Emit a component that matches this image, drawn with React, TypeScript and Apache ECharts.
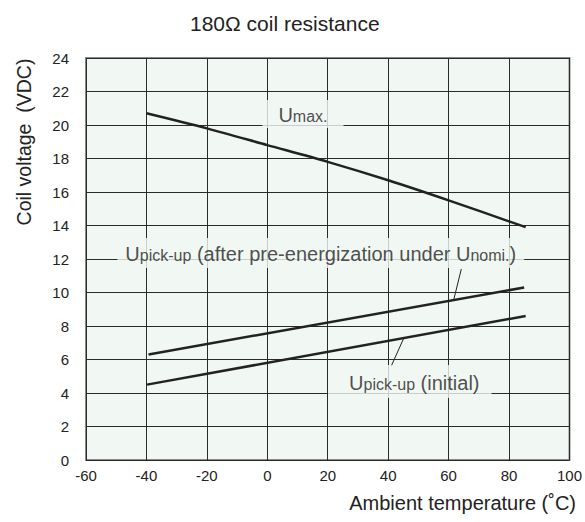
import React, { useEffect, useRef } from "react";
import * as echarts from "echarts";

const tempUmax = [-40, -20, 0, 20, 40, 60, 85.5];
const uMax = [20.7, 19.8, 18.8, 17.8, 16.7, 15.5, 13.9];

const tempAfter = [-39.3, 85];
const pickupAfter = [6.3, 10.3];

const tempInitial = [-39.8, 85.5];
const pickupInitial = [4.5, 8.6];

const xTicks = { min: -60, max: 100, interval: 20 };
const yTicks = { min: 0, max: 24, interval: 2 };

// annotation anchors in data coordinates
const labelUmax = [11.8, 20.66];
const labelAfter = [17.7, 12.36];
const labelInitial = [47.15, 4.69];
const leaderAfter = [[64.2, 11.4], [61.6, 9.5]];
const leaderInitial = [[41.0, 5.6], [45.1, 7.25]];

const INK = "#222";
const BG = "#f1f7f3";
const FONT = "Liberation Sans, Arial, sans-serif";

export default function App() {
  const ref = useRef<HTMLDivElement>(null);
  useEffect(() => {
    document.body.style.margin = "0";
    const chart = echarts.init(ref.current!, null, { renderer: "svg" });
    const rich = {
      u: { fontSize: 20, color: INK, fontFamily: FONT, lineHeight: 22, verticalAlign: "bottom" },
      s: { fontSize: 16, color: INK, fontFamily: FONT, lineHeight: 22, verticalAlign: "bottom" },
    };
    const annot = (pt: number[], text: string, padding: number[]) => ({
      type: "scatter",
      symbolSize: 0,
      z: 5,
      data: [pt],
      silent: true,
      label: {
        show: true,
        position: "inside",
        formatter: text,
        rich,
        backgroundColor: BG,
        padding,
      },
    });
    chart.setOption({
      animation: false,
      textStyle: { fontFamily: FONT },
      title: {
        text: "180Ω coil resistance",
        left: 185,
        top: 8,
        textStyle: { fontSize: 21, fontWeight: "normal", color: INK, fontFamily: FONT },
      },
      grid: {
        left: 86,
        right: 7,
        top: 58,
        bottom: 62,
        show: true,
        backgroundColor: BG,
        borderColor: "#8a8a8a",
        borderWidth: 2,
      },
      xAxis: {
        type: "value",
        min: xTicks.min,
        max: xTicks.max,
        interval: xTicks.interval,
        axisLine: { show: false },
        axisTick: { show: false },
        axisLabel: { color: INK, fontSize: 15, margin: 8, fontFamily: FONT },
        splitLine: { show: true, lineStyle: { color: "#2a2a2a", width: 1 } },
      },
      yAxis: {
        type: "value",
        min: yTicks.min,
        max: yTicks.max,
        interval: yTicks.interval,
        axisLine: { show: false },
        axisTick: { show: false },
        axisLabel: { color: INK, fontSize: 15, margin: 17, fontFamily: FONT },
        splitLine: { show: true, lineStyle: { color: "#2a2a2a", width: 1 } },
      },
      graphic: [
        {
          type: "text",
          x: 24,
          y: 142,
          rotation: Math.PI / 2,
          style: {
            text: "Coil voltage  (VDC)",
            fill: INK,
            fontSize: 19.5,
            fontFamily: FONT,
            textAlign: "center",
            textVerticalAlign: "middle",
          },
        },
        {
          type: "text",
          x: 576,
          y: 503,
          style: {
            text: "Ambient temperature (˚C)",
            fill: INK,
            fontSize: 20,
            fontFamily: FONT,
            textAlign: "right",
            textVerticalAlign: "middle",
          },
        },
      ],
      series: [
        {
          type: "line",
          smooth: 0.3,
          symbol: "none",
          lineStyle: { color: INK, width: 2.5 },
          data: tempUmax.map((t, i) => [t, uMax[i]]),
        },
        {
          type: "line",
          symbol: "none",
          lineStyle: { color: INK, width: 2.5 },
          data: tempAfter.map((t, i) => [t, pickupAfter[i]]),
        },
        {
          type: "line",
          symbol: "none",
          lineStyle: { color: INK, width: 2.5 },
          data: tempInitial.map((t, i) => [t, pickupInitial[i]]),
        },
        {
          type: "line",
          symbol: "none",
          lineStyle: { color: INK, width: 1 },
          data: leaderAfter,
        },
        {
          type: "line",
          symbol: "none",
          lineStyle: { color: INK, width: 1 },
          data: leaderInitial,
        },
        annot(labelUmax, "{u|U}{s|max.}", [3, 16, 3, 16]),
        annot(
          labelAfter,
          "{u|U}{s|pick-up}{u| (after pre-energization under U}{s|nomi.}{u|)}",
          [4, 8, 4, 8]
        ),
        annot(labelInitial, "{u|U}{s|pick-up}{u| (initial)}", [6, 12, 5, 21]),
      ],
    });
    return () => chart.dispose();
  }, []);
  return (
    <div
      ref={ref}
      style={{ position: "absolute", left: 0, top: 0, width: 585, height: 522 }}
    />
  );
}
